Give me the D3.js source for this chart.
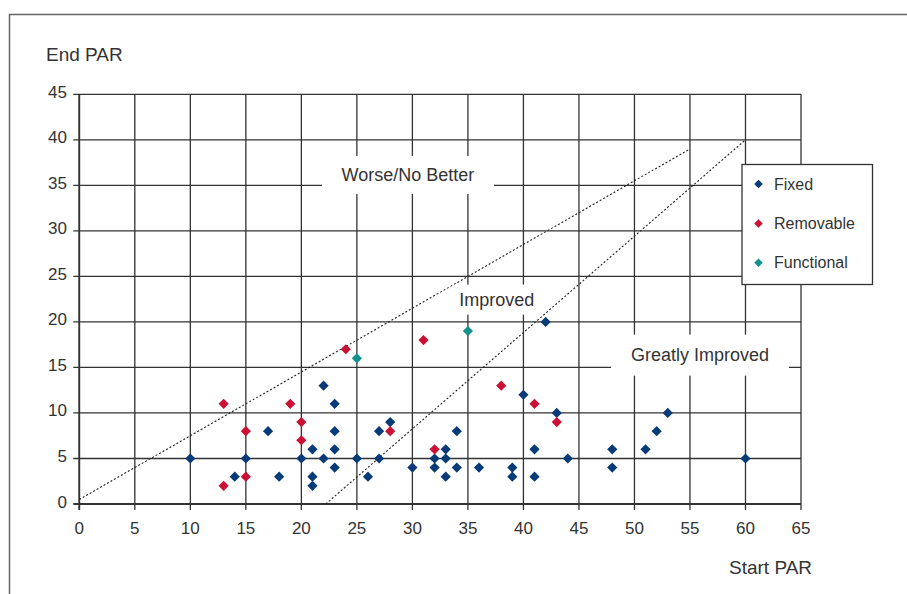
<!DOCTYPE html>
<html><head><meta charset="utf-8">
<script src="https://cdn.jsdelivr.net/npm/d3@7"></script>
<style>
html,body{margin:0;padding:0;background:#fff;}
svg{display:block;font-family:"Liberation Sans",Arial,sans-serif;}
</style></head>
<body><div id="chart"></div>
<script>
// ---- data ----
const fixedStart = [10,14,15,17,18,20,21,21,21,22,22,23,23,23,23,25,26,27,27,28,30,32,32,33,33,33,34,34,36,39,39,40,41,41,42,43,44,48,48,51,52,53,60];
const fixedEnd   = [5,3,5,8,3,5,6,3,2,13,5,11,8,6,4,5,3,8,5,9,4,5,4,6,5,3,8,4,4,4,3,12,6,3,20,10,5,6,4,6,8,10,5];
const removableStart = [13,13,15,15,19,20,20,24,28,31,32,38,41,43];
const removableEnd   = [11,2,8,3,11,9,7,17,8,18,6,13,11,9];
const functionalStart = [25,35];
const functionalEnd   = [16,19];
const seriesNames = ["Fixed","Removable","Functional"];
const seriesColors = ["#073b78","#cc1035","#11908e"];
const xTicks = d3.range(0,66,5);
const yTicks = d3.range(0,46,5);
const worseLine = [[0,0.5],[55,39]];
const greatLine = [[22.2,0],[60,40]];
const regionLabels = ["Worse/No Better","Improved","Greatly Improved"];
const regionPos = [[29.6,36.15],[37.6,22.45],[55.9,16.35]]; // label centers in data units
const xTitle = "Start PAR", yTitle = "End PAR";

// ---- drawing ----
const W = 907, H = 594;
const svg = d3.select("#chart").append("svg").attr("width",W).attr("height",H);
svg.append("rect").attr("width",W).attr("height",H).attr("fill","#fff");
// outer frame (cropped at right/bottom)
svg.append("rect").attr("x",9.5).attr("y",14.5).attr("width",1000).attr("height",1000)
  .attr("fill","none").attr("stroke","#666").attr("stroke-width",1.5);

const x = d3.scaleLinear().domain([0,65]).range([79.3,801]);
const y = d3.scaleLinear().domain([0,45]).range([504,94.3]);
const gridColor = "#333";

// gridlines
const g = svg.append("g");
g.selectAll("line.v").data(xTicks).join("line")
  .attr("x1",d=>x(d)).attr("x2",d=>x(d)).attr("y1",y(45)).attr("y2",y(0)+6)
  .attr("stroke",gridColor).attr("stroke-width",1.3);
g.selectAll("line.h").data(yTicks).join("line")
  .attr("x1",x(0)-6).attr("x2",x(65)).attr("y1",d=>y(d)).attr("y2",d=>y(d))
  .attr("stroke",gridColor).attr("stroke-width",d=>d===0?1.8:1.3);
g.append("line").attr("x1",x(0)).attr("x2",x(0)).attr("y1",y(45)).attr("y2",y(0)+6)
  .attr("stroke",gridColor).attr("stroke-width",1.8);

// tick labels
svg.append("g").selectAll("text").data(yTicks).join("text")
  .attr("x",67).attr("y",d=>y(d)-2).attr("text-anchor","end").attr("dominant-baseline","central")
  .attr("font-size",17).attr("fill","#333").text(d=>d);
svg.append("g").selectAll("text").data(xTicks).join("text")
  .attr("x",d=>x(d)).attr("y",534).attr("text-anchor","middle")
  .attr("font-size",17).attr("fill","#333").text(d=>d);

// axis titles
svg.append("text").attr("x",46).attr("y",61).attr("font-size",19).attr("fill","#333").text(yTitle);
svg.append("text").attr("x",729).attr("y",574).attr("font-size",19).attr("fill","#333").text(xTitle);

// region label boxes
const boxSizes = [[172,38],[104,30],[178,41]];
const lab = svg.append("g");
regionLabels.forEach((t,i)=>{
  const cx = x(regionPos[i][0]), cy = y(regionPos[i][1]);
  lab.append("rect").attr("x",cx-boxSizes[i][0]/2).attr("y",cy-boxSizes[i][1]/2)
    .attr("width",boxSizes[i][0]).attr("height",boxSizes[i][1]).attr("fill","#fff");
  lab.append("text").attr("x",cx).attr("y",cy).attr("text-anchor","middle")
    .attr("dominant-baseline","central").attr("font-size",18).attr("fill","#333").text(t);
});

// dotted lines
const line = d3.line().x(d=>x(d[0])).y(d=>y(d[1]));
[worseLine,greatLine].forEach(l=>{
  svg.append("path").attr("d",line(l)).attr("fill","none").attr("stroke","#222")
    .attr("stroke-width",1.1).attr("stroke-dasharray","2,2");
});

// diamond symbol
const diamond = {draw(ctx,size){const r=Math.sqrt(size/2);ctx.moveTo(0,-r);ctx.lineTo(r,0);ctx.lineTo(0,r);ctx.lineTo(-r,0);ctx.closePath();}};
const sym = d3.symbol().type(diamond).size(52);
const series = [
  {xs:fixedStart, ys:fixedEnd},
  {xs:removableStart, ys:removableEnd},
  {xs:functionalStart, ys:functionalEnd}
];
series.forEach((s,i)=>{
  svg.append("g").selectAll("path").data(s.xs.map((v,j)=>[v,s.ys[j]])).join("path")
    .attr("d",sym).attr("transform",d=>`translate(${x(d[0])},${y(d[1])})`)
    .attr("fill",seriesColors[i]);
});

// legend
const lg = svg.append("g");
lg.append("rect").attr("x",742).attr("y",164.5).attr("width",130.5).attr("height",120)
  .attr("fill","#fff").attr("stroke","#333").attr("stroke-width",1.3);
const symL = d3.symbol().type(diamond).size(36);
seriesNames.forEach((n,i)=>{
  const yy = 184 + i*39.4;
  lg.append("path").attr("d",symL).attr("transform",`translate(758.5,${yy})`).attr("fill",seriesColors[i]);
  lg.append("text").attr("x",774).attr("y",yy).attr("dominant-baseline","central")
    .attr("font-size",16).attr("fill","#333").text(n);
});
</script></body></html>
